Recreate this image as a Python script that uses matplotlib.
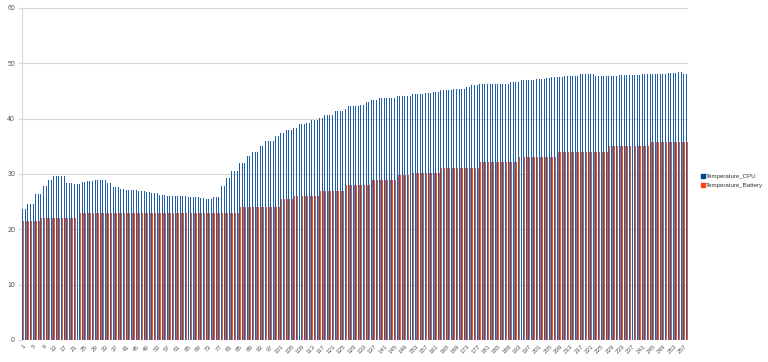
import matplotlib
matplotlib.use("Agg")
import matplotlib.pyplot as plt
import numpy as np
from matplotlib.lines import Line2D

plt.rcParams['font.family'] = ['Liberation Sans', 'DejaVu Sans']

cpu = [
    23.6, 23.6, 24.5, 24.5, 24.5, 26.4, 26.4, 26.4, 27.8, 27.8,
    28.9, 28.9, 29.6, 29.6, 29.6, 29.6, 29.6, 28.4, 28.4, 28.4,
    28.2, 28.2, 28.2, 28.5, 28.5, 28.8, 28.8, 28.8, 29.0, 29.0,
    29.0, 29.0, 29.0, 28.3, 28.3, 27.6, 27.6, 27.6, 27.3, 27.3,
    27.1, 27.1, 27.1, 27.1, 27.1, 26.9, 26.9, 26.9, 26.7, 26.7,
    26.5, 26.5, 26.5, 26.2, 26.2, 26.2, 26.0, 26.0, 26.0, 26.0,
    26.0, 26.0, 26.0, 26.0, 25.8, 25.8, 25.8, 25.8, 25.8, 25.7,
    25.7, 25.5, 25.5, 25.5, 25.8, 25.8, 25.8, 27.8, 27.8, 29.3,
    29.3, 30.5, 30.5, 30.5, 32.0, 32.0, 32.0, 33.2, 33.2, 34.0,
    34.0, 34.0, 35.1, 35.1, 35.9, 35.9, 35.9, 35.9, 36.9, 36.9,
    37.5, 37.5, 37.9, 37.9, 37.9, 38.4, 38.4, 39.0, 39.0, 39.0,
    39.3, 39.3, 39.8, 39.8, 39.8, 40.2, 40.2, 40.6, 40.6, 40.6,
    40.6, 41.4, 41.4, 41.4, 41.4, 41.8, 42.2, 42.2, 42.2, 42.2,
    42.2, 42.5, 42.5, 43.0, 43.0, 43.3, 43.3, 43.3, 43.7, 43.7,
    43.7, 43.7, 43.7, 43.7, 43.7, 44.1, 44.1, 44.1, 44.1, 44.1,
    44.1, 44.4, 44.4, 44.4, 44.4, 44.4, 44.6, 44.6, 44.6, 44.8,
    44.8, 44.8, 45.1, 45.1, 45.1, 45.1, 45.1, 45.4, 45.4, 45.4,
    45.4, 45.4, 45.8, 45.8, 46.1, 46.1, 46.1, 46.3, 46.3, 46.3,
    46.3, 46.3, 46.3, 46.3, 46.3, 46.3, 46.3, 46.3, 46.3, 46.6,
    46.6, 46.6, 46.6, 46.9, 46.9, 46.9, 46.9, 46.9, 46.9, 47.1,
    47.1, 47.1, 47.1, 47.3, 47.3, 47.6, 47.6, 47.6, 47.6, 47.6,
    47.8, 47.8, 47.8, 47.8, 47.8, 47.8, 48.1, 48.1, 48.1, 48.1,
    48.1, 48.1, 47.8, 47.8, 47.8, 47.8, 47.8, 47.8, 47.8, 47.8,
    47.8, 47.9, 47.9, 47.9, 47.9, 47.9, 47.9, 47.9, 47.9, 47.9,
    48.1, 48.1, 48.1, 48.1, 48.1, 48.1, 48.1, 48.1, 48.1, 48.1,
    48.3, 48.3, 48.3, 48.3, 48.4, 48.4, 48.0, 48.0,
]

battery = [
    21.5, 21.5, 21.5, 21.5, 21.5, 21.5, 21.5, 22.0, 22.0, 22.0,
    22.0, 22.0, 22.0, 22.0, 22.0, 22.0, 22.0, 22.0, 22.0, 22.0,
    22.0, 22.0, 23.0, 23.0, 23.0, 23.0, 23.0, 23.0, 23.0, 23.0,
    23.0, 23.0, 23.0, 23.0, 23.0, 23.0, 23.0, 23.0, 23.0, 23.0,
    23.0, 23.0, 23.0, 23.0, 23.0, 23.0, 23.0, 23.0, 23.0, 23.0,
    23.0, 23.0, 23.0, 23.0, 23.0, 23.0, 23.0, 23.0, 23.0, 23.0,
    23.0, 23.0, 23.0, 23.0, 23.0, 23.0, 23.0, 23.0, 23.0, 23.0,
    23.0, 23.0, 23.0, 23.0, 23.0, 23.0, 23.0, 23.0, 23.0, 23.0,
    23.0, 23.0, 23.0, 23.0, 24.0, 24.0, 24.0, 24.0, 24.0, 24.0,
    24.0, 24.0, 24.0, 24.0, 24.0, 24.0, 24.0, 24.0, 24.0, 24.0,
    25.5, 25.5, 25.5, 25.5, 25.5, 26.0, 26.0, 26.0, 26.0, 26.0,
    26.0, 26.0, 26.0, 26.0, 26.0, 27.0, 27.0, 27.0, 27.0, 27.0,
    27.0, 27.0, 27.0, 27.0, 27.0, 28.0, 28.0, 28.0, 28.0, 28.0,
    28.0, 28.0, 28.0, 28.0, 28.0, 29.0, 29.0, 29.0, 29.0, 29.0,
    29.0, 29.0, 29.0, 29.0, 29.0, 29.9, 29.9, 29.9, 29.9, 29.9,
    29.9, 30.25, 30.25, 30.25, 30.25, 30.25, 30.25, 30.25, 30.25, 30.25,
    30.25, 30.25, 31.1, 31.1, 31.1, 31.1, 31.1, 31.1, 31.1, 31.1,
    31.1, 31.1, 31.1, 31.1, 31.1, 31.1, 31.1, 32.1, 32.1, 32.1,
    32.1, 32.1, 32.1, 32.1, 32.1, 32.1, 32.1, 32.1, 32.1, 32.1,
    32.1, 32.1, 33.0, 33.0, 33.0, 33.0, 33.0, 33.0, 33.0, 33.0,
    33.0, 33.0, 33.0, 33.0, 33.0, 33.0, 33.0, 34.0, 34.0, 34.0,
    34.0, 34.0, 34.0, 34.0, 34.0, 34.0, 34.0, 34.0, 34.0, 34.0,
    34.0, 34.0, 34.0, 34.0, 34.0, 34.0, 34.0, 35.0, 35.0, 35.0,
    35.0, 35.0, 35.0, 35.0, 35.0, 35.0, 35.0, 35.0, 35.0, 35.0,
    35.0, 35.0, 35.0, 35.7, 35.7, 35.7, 35.7, 35.7, 35.7, 35.7,
    35.7, 35.7, 35.7, 35.7, 35.7, 35.7, 35.7, 35.7,
]

categories = list(range(1, len(cpu) + 1))
series_names = ["Temperature_CPU", "Temperature_Battery"]
colors = ["#1f5fa8", "#f2552c"]
y_ticks = [0, 10, 20, 30, 40, 50, 60]

fig = plt.figure(figsize=(7.68, 3.62), dpi=100)
ax = fig.add_axes([22 / 768, 1 - 340 / 362, (688 - 22) / 768, (340 - 8) / 362])

x = np.arange(len(categories))
w = 0.38
ax.bar(x - w / 2, cpu, width=w, color=colors[0], linewidth=0, zorder=3)
ax.bar(x + w / 2, battery, width=w, color=colors[1], linewidth=0, zorder=3)

ax.set_xlim(-0.5, len(categories) - 0.5)
ax.set_ylim(0, 60)
ax.set_yticks(y_ticks)
ax.set_yticklabels([str(v) for v in y_ticks], fontsize=5, color="#555555")
ax.yaxis.grid(True, color="#d9d9d9", linewidth=0.8, zorder=0)
ax.set_axisbelow(True)

tick_idx = x[::4]
ax.set_xticks(tick_idx)
ax.set_xticklabels([str(categories[i]) for i in tick_idx], rotation=45,
                   fontsize=4.5, color="#555555", ha="right", rotation_mode="anchor")
ax.tick_params(axis="x", length=0, pad=3)
ax.tick_params(axis="y", length=3, color="#d9d9d9", pad=2)

for s in ["top", "right", "bottom"]:
    ax.spines[s].set_visible(False)
ax.spines["left"].set_color("#d9d9d9")
ax.spines["left"].set_linewidth(0.8)

handles = [Line2D([0], [0], marker="s", linestyle="none", markersize=2.5,
                  markerfacecolor=c, markeredgecolor=c) for c in ["#004586", "#ff420e"]]
fig.legend(handles, series_names, loc="center left", bbox_to_anchor=(0.909, 0.5),
           frameon=False, fontsize=4.4, handletextpad=0.1, labelspacing=0.7,
           handlelength=0.6, borderpad=0, labelcolor="#333333")

fig.savefig("out.png", dpi=100)
